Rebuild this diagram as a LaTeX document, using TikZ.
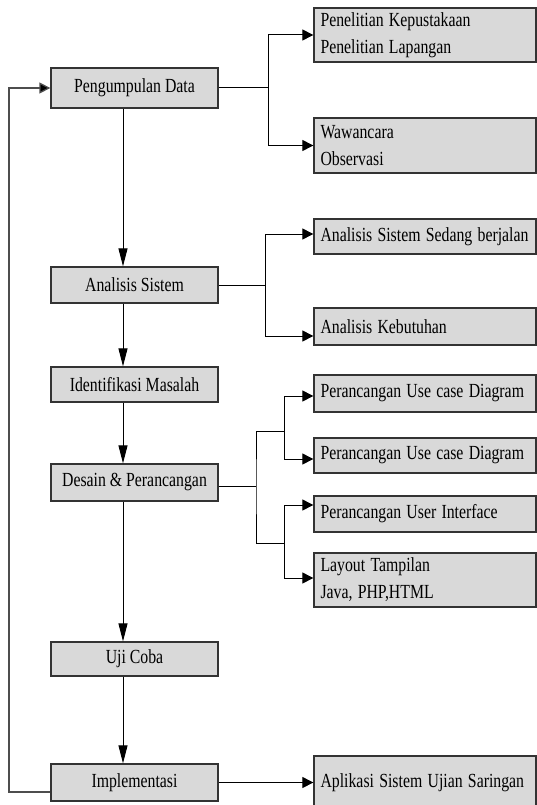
\documentclass[tikz,border=0pt]{standalone}
\usepackage{fontspec}
\setmainfont{Liberation Serif}
\usetikzlibrary{arrows.meta}

\definecolor{boxfill}{HTML}{D9D9D9}
\definecolor{boxline}{HTML}{333333}
\definecolor{loopline}{HTML}{4D4D4D}

% narrow type: the labels are set horizontally condensed
\newcommand{\cnd}[1]{\scalebox{0.79}[1]{#1}}

\begin{document}
\begin{tikzpicture}[x=1pt,y=-1pt,
  every node/.style={font=\fontsize{20}{27}\selectfont, text=black},
  box/.style={draw=boxline, fill=boxfill, line width=1.3pt, inner sep=0pt},
  stage/.style={box, minimum width=167pt},
  item/.style={box, text width=209pt, align=left, inner xsep=6.5pt},
  link/.style={line width=1pt, draw=black},
  harrow/.style={link, -{Triangle[length=11pt,width=11pt]}},
  varrow/.style={link, -{Triangle[length=18pt,width=9pt]}},
  looplink/.style={line width=1.3pt, draw=loopline, -{Triangle[length=11pt,width=11pt,fill=black]}},
]
\useasboundingbox (0,0) rectangle (537,805);

% main stages
\node[stage, minimum height=40pt] (pd) at (134.5,88)    {\cnd{Pengumpulan Data}};
\node[stage, minimum height=36pt] (as) at (134.5,285)   {\cnd{Analisis Sistem}};
\node[stage, minimum height=35pt] (im) at (134.5,384.5) {\cnd{Identifikasi Masalah}};
\node[stage, minimum height=37pt] (dp) at (134.5,482.5) {\cnd{Desain \& Perancangan}};
\node[stage, minimum height=34pt] (uc) at (134.5,659)   {\cnd{Uji Coba}};
\node[stage, minimum height=37pt] (ip) at (134.5,782.5) {\cnd{Implementasi}};

% detail boxes
\node[item, minimum height=54pt] (r1) at (425,35)    {\cnd{Penelitian Kepustakaan}\\\cnd{Penelitian Lapangan}};
\node[item, minimum height=55pt] (r2) at (425,145.5) {\cnd{Wawancara}\\\cnd{Observasi}};
\node[item, minimum height=35pt] (r3) at (425,236.5) {\cnd{Analisis Sistem Sedang berjalan}};
\node[item, minimum height=37pt] (r4) at (425,326.5) {\cnd{Analisis Kebutuhan}};
\node[item, minimum height=37pt] (r5) at (425,393.5) {\cnd{Perancangan Use case Diagram}};
\node[item, minimum height=35pt] (r6) at (425,455.5) {\cnd{Perancangan Use case Diagram}};
\node[item, minimum height=36pt] (r7) at (425,514)   {\cnd{Perancangan User Interface}};
\node[item, minimum height=54pt] (r8) at (425,580)   {\cnd{Layout Tampilan}\\\cnd{Java, PHP,HTML}};
\node[item, minimum height=54pt] (r9) at (425,783)   {\cnd{Aplikasi Sistem Ujian Saringan}};

% main flow
\draw[varrow] ([xshift=-11.5pt]pd.south) -- ([xshift=-11.5pt]as.north);
\draw[varrow] ([xshift=-11.5pt]as.south) -- ([xshift=-11.5pt]im.north);
\draw[varrow] ([xshift=-11.5pt]im.south) -- ([xshift=-11.5pt]dp.north);
\draw[varrow] ([xshift=-11.5pt]dp.south) -- ([xshift=-11.5pt]uc.north);
\draw[varrow] ([xshift=-11.5pt]uc.south) -- ([xshift=-11.5pt]ip.north);

% data collection branch
\coordinate (j1) at (268,88);
\draw[link] (pd.east) -- (j1);
\draw[harrow] (j1) |- (r1.west);
\draw[harrow] (j1) |- (r2.west);

% analysis branch
\coordinate (j2) at (265,285);
\draw[link] (as.east) -- (j2);
\draw[harrow] (j2) |- ([yshift=2.5pt]r3.west);
\draw[harrow] (j2) |- ([yshift=-9.5pt]r4.west);

% design branch
\coordinate (j3) at (256,486);
\coordinate (j4) at (284,431);
\coordinate (j5) at (284,543);
\draw[link] (dp.east |- j3) -- (j3);
\draw[link] (j4) -| (j3) |- (j5);
\draw[harrow] (j4) |- ([yshift=-2.5pt]r5.west);
\draw[harrow] (j4) |- ([yshift=-3.5pt]r6.west);
\draw[harrow] (j5) |- ([yshift=9pt]r7.west);
\draw[harrow] (j5) |- ([yshift=2pt]r8.west);

% implementation output
\draw[harrow] (ip.east) -- (ip.east -| r9.west);

% feedback loop
\coordinate (lp) at (9,792);
\draw[looplink] ([yshift=-9.5pt]ip.west) -- (lp) |- (pd.west);
\end{tikzpicture}
\end{document}
